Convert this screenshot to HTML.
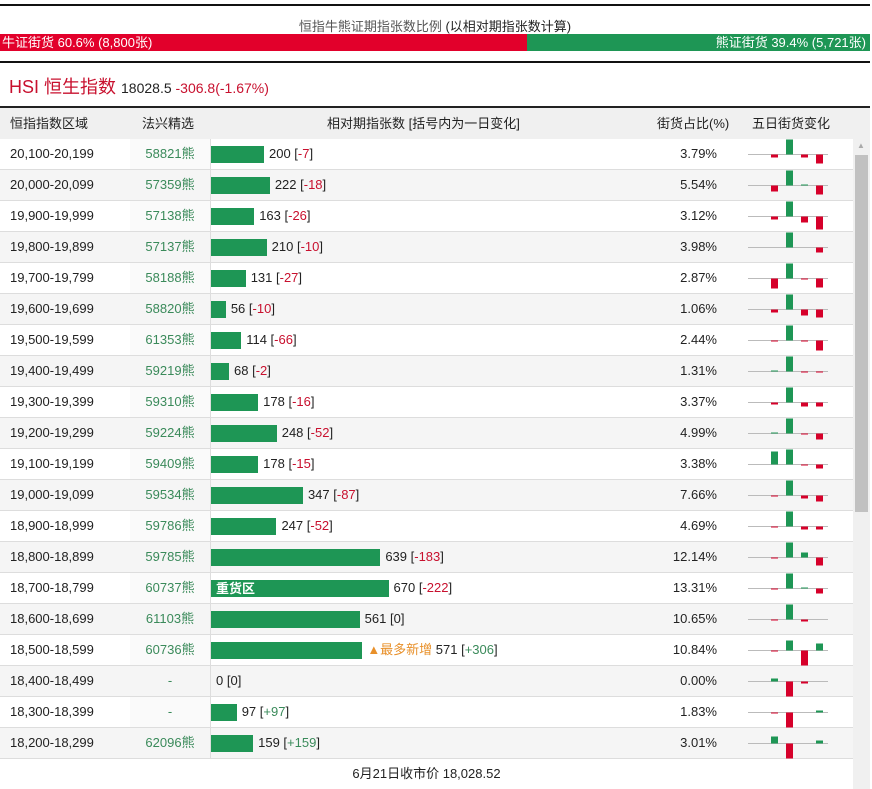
<!DOCTYPE html>
<html><head><meta charset="utf-8"><style>
body{margin:0;width:872px;height:789px;overflow:hidden;background:#fff;font-family:"Liberation Sans","Noto Sans CJK SC",sans-serif;font-size:13px;color:#222}
.abs{position:absolute}
</style></head><body>
<div class="abs" style="left:0;top:4px;width:870px;height:2px;background:#111"></div>
<div class="abs" style="left:0;top:16px;width:870px;text-align:center;font-size:13px;color:#555">恒指牛熊证期指张数比例 <span style="color:#222">(以相对期指张数计算)</span></div>
<div class="abs" style="left:0;top:34px;width:527px;height:17px;background:#e2002b;color:#fff;font-size:13px;line-height:17px;padding-left:2px;box-sizing:border-box">牛证街货 60.6% (8,800张)</div>
<div class="abs" style="left:527px;top:34px;width:343px;height:17px;background:#1e9655;color:#fff;font-size:13px;line-height:17px;text-align:right;padding-right:4px;box-sizing:border-box">熊证街货 39.4% (5,721张)</div>
<div class="abs" style="left:0;top:61px;width:870px;height:2px;background:#111"></div>
<div class="abs" style="left:9px;top:73px;font-size:18px;color:#c8102e">HSI 恒生指数 <span style="font-size:14px;color:#222">18028.5 </span><span style="font-size:14px;color:#c8102e">-306.8(-1.67%)</span></div>
<div class="abs" style="left:0;top:106px;width:870px;height:33px;border-top:2px solid #222;box-sizing:border-box;background:#f0f0f0;font-size:13px;line-height:31px">
 <span class="abs" style="left:10px">恒指指数区域</span>
 <span class="abs" style="left:142px">法兴精选</span>
 <span class="abs" style="left:327px">相对期指张数 [括号内为一日变化]</span>
 <span class="abs" style="left:657px">街货占比(%)</span>
 <span class="abs" style="left:752px">五日街货变化</span>
</div>
<div id="rows" class="abs" style="left:0;top:139px;width:853px;height:650px"></div>
<div class="abs" style="left:853px;top:139px;width:17px;height:650px;background:#f0f0f0">
 <div class="abs" style="left:4px;top:2px;font-size:8px;color:#aaa">▲</div>
 <div class="abs" style="left:2px;top:16px;width:13px;height:357px;background:#c1c1c1"></div>
</div>
<script>
const ranges=["20,100-20,199","20,000-20,099","19,900-19,999","19,800-19,899","19,700-19,799","19,600-19,699","19,500-19,599","19,400-19,499","19,300-19,399","19,200-19,299","19,100-19,199","19,000-19,099","18,900-18,999","18,800-18,899","18,700-18,799","18,600-18,699","18,500-18,599","18,400-18,499","18,300-18,399","18,200-18,299"];
const picks=["58821熊","57359熊","57138熊","57137熊","58188熊","58820熊","61353熊","59219熊","59310熊","59224熊","59409熊","59534熊","59786熊","59785熊","60737熊","61103熊","60736熊","-","-","62096熊"];
const contracts=[200,222,163,210,131,56,114,68,178,248,178,347,247,639,670,561,571,0,97,159];
const changes=[-7,-18,-26,-10,-27,-10,-66,-2,-16,-52,-15,-87,-52,-183,-222,0,306,0,97,159];
const shares=["3.79%","5.54%","3.12%","3.98%","2.87%","1.06%","2.44%","1.31%","3.37%","4.99%","3.38%","7.66%","4.69%","12.14%","13.31%","10.65%","10.84%","0.00%","1.83%","3.01%"];
const fiveDay=[[-3,15,-3,-9],[-6,15,1,-9],[-3,15,-6,-13],[0,15,0,-5],[-10,15,-1,-9],[-3,15,-6,-8],[-1,15,-1,-10],[1,15,-1,-1],[-2,15,-4,-4],[1,15,-1,-6],[13,15,-1,-4],[-1,15,-3,-6],[-1,15,-3,-3],[-1,15,5,-8],[-1,15,1,-5],[-1,15,-2,0],[-1,10,-15,7],[3,-15,-2,0],[-1,-15,0,2],[7,-15,0,3]];
const xScale=v=>v*0.265;
const rowH=31;
const body=document.getElementById('rows');
ranges.forEach((r,i)=>{
 const row=document.createElement('div');
 
 
 row.style.cssText=`position:absolute;left:0;top:${i*rowH}px;width:853px;height:${rowH}px;border-bottom:1px solid #ddd;box-sizing:border-box;background:${i%2?'#f5f5f5':'#fff'};line-height:30px`;
 const c1=document.createElement('span');
 
 
 c1.style.cssText='position:absolute;left:10px';c1.textContent=r;row.appendChild(c1);
 const c2=document.createElement('span');
 
 
 c2.style.cssText=`position:absolute;left:130px;width:80px;text-align:center;color:#3a8a5a;background:${i%2?'#f5f5f5':'#fafafa'};height:30px`;
 c2.textContent=picks[i];row.appendChild(c2);
 const vl=document.createElement('div');
 
 
 vl.style.cssText='position:absolute;left:210px;top:0;width:1px;height:31px;background:#ddd';row.appendChild(vl);
 const w=xScale(contracts[i]);
 if(w>0){const b=document.createElement('div');
 
 
 b.style.cssText=`position:absolute;left:211px;top:7px;width:${w}px;height:17px;background:#1e9655;color:#fff;line-height:17px;font-weight:bold;font-size:13px;padding-left:5px;box-sizing:border-box;white-space:nowrap;overflow:hidden`;
 if(i===14)b.textContent='重货区';row.appendChild(b);}
 const lab=document.createElement('span');
 
 
 lab.style.cssText=`position:absolute;left:${211+w+5}px;white-space:nowrap`;
 const ch=changes[i];const col=ch<0?'#c8102e':(ch>0?'#3a8a5a':'#222');
 const chs=ch>0?'+'+ch:''+ch;
 lab.innerHTML=(i===16?'<span style="color:#e8902a">▲最多新增</span> ':'')+contracts[i]+' [<span style="color:'+col+'">'+chs+'</span>]';
 row.appendChild(lab);
 const sh=document.createElement('span');
 
 
 sh.style.cssText='position:absolute;right:136px';sh.textContent=shares[i];row.appendChild(sh);
 const svg=document.createElementNS('http://www.w3.org/2000/svg','svg');
 
 
 svg.setAttribute('width','90');svg.setAttribute('height','31');
 svg.style.cssText='position:absolute;left:745px;top:0';
 const base=15.5;
 const ln=document.createElementNS(svg.namespaceURI,'line');
 ln.setAttribute('x1',3);ln.setAttribute('x2',83);ln.setAttribute('y1',base);ln.setAttribute('y2',base);ln.setAttribute('stroke','#bbb');svg.appendChild(ln);
 fiveDay[i].forEach((v,k)=>{ if(v===0)return;
  const rc=document.createElementNS(svg.namespaceURI,'rect');
  
  
  rc.setAttribute('x',26+k*15);rc.setAttribute('width',7);
  rc.setAttribute('y',v>0?base-v:base);rc.setAttribute('height',Math.abs(v));
  rc.setAttribute('fill',v>0?'#1e9655':'#d6002a');svg.appendChild(rc);});
 row.appendChild(svg);
 body.appendChild(row);
});
const ft=document.createElement('div');


ft.style.cssText=`position:absolute;left:0;top:${20*rowH}px;width:853px;text-align:center;line-height:30px`;
ft.textContent='6月21日收市价 18,028.52';body.appendChild(ft);
</script>
</body></html>
